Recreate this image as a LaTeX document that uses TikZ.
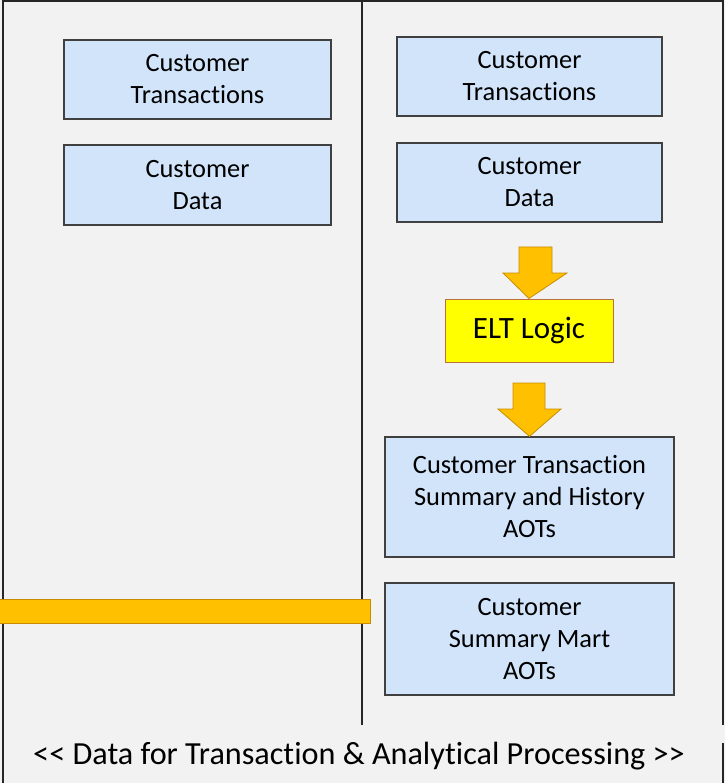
\documentclass[tikz,border=0pt]{standalone}
\usepackage{fontspec}
\newfontfamily\cfont{Carlito}[Ligatures={NoCommon}]
\definecolor{bgc}{RGB}{242,242,242}
\definecolor{boxc}{RGB}{209,228,250}
\definecolor{edgec}{RGB}{64,64,64}
\definecolor{orangec}{RGB}{255,192,0}
\definecolor{orangee}{RGB}{200,140,0}
\definecolor{yelc}{RGB}{255,255,0}
\definecolor{yele}{RGB}{190,110,60}
\tikzset{
  bluebox/.style={draw=edgec, line width=1.3pt, fill=boxc, inner sep=0pt, align=center,
    font=\cfont\fontsize{26.4}{32}\selectfont},
  eltbox/.style={draw=yele, line width=1pt, fill=yelc, inner sep=0pt, align=center,
    font=\cfont\fontsize{31}{36}\selectfont},
  blockarrow/.style={fill=orangec, draw=orangee, line width=0.8pt, line join=miter},
  frameline/.style={draw=black!85, line width=1.3pt}
}
\begin{document}
\begin{tikzpicture}[x=1pt,y=-1pt]
\useasboundingbox (0,0) rectangle (725,783);
\fill[bgc] (0,0) rectangle (725,783);
% frame
\draw[frameline] (3,783) -- (3,1) -- (723,1) -- (723,725);
\draw[frameline] (723,743) -- (723,783);
\draw[frameline] (362,1) -- (362,725);
% left column
\node[bluebox, minimum width=267pt, minimum height=79pt] (lct) at (197.5,79.5) {Customer\\Transactions};
\node[bluebox, minimum width=267pt, minimum height=80pt] (lcd) at (197.5,185) {Customer\\Data};
% right column
\node[bluebox, minimum width=265pt, minimum height=79pt] (rct) at (529.5,76.5) {Customer\\Transactions};
\node[bluebox, minimum width=265pt, minimum height=79pt] (rcd) at (529.5,182.5) {Customer\\Data};
\node[eltbox, minimum width=168pt, minimum height=63pt] (elt) at (529,330.5) {\raisebox{-2pt}{ELT Logic}};
\node[bluebox, minimum width=289pt, minimum height=120pt] (cts) at (529.5,497) {Customer Transaction\\Summary and History\\AOTs};
\node[bluebox, minimum width=289pt, minimum height=112pt] (csm) at (529.5,639) {Customer\\Summary Mart\\AOTs};
% block arrows
\draw[blockarrow] (519,247) -- (552,247) -- (552,273) -- (567,273) -- (elt.north) -- (503,273) -- (519,273) -- cycle;
\draw[blockarrow] (513,383) -- (545,383) -- (545,409) -- (561,409) -- (cts.north) -- (498,409) -- (513,409) -- cycle;
% orange bar
\draw[blockarrow] (-2,599) rectangle (370,623);
% bottom label
\node[font=\cfont\fontsize{32.2}{36}\selectfont, inner sep=0pt] (lbl) at (359,756) {<< Data for Transaction \& Analytical Processing >>};
\end{tikzpicture}
\end{document}
